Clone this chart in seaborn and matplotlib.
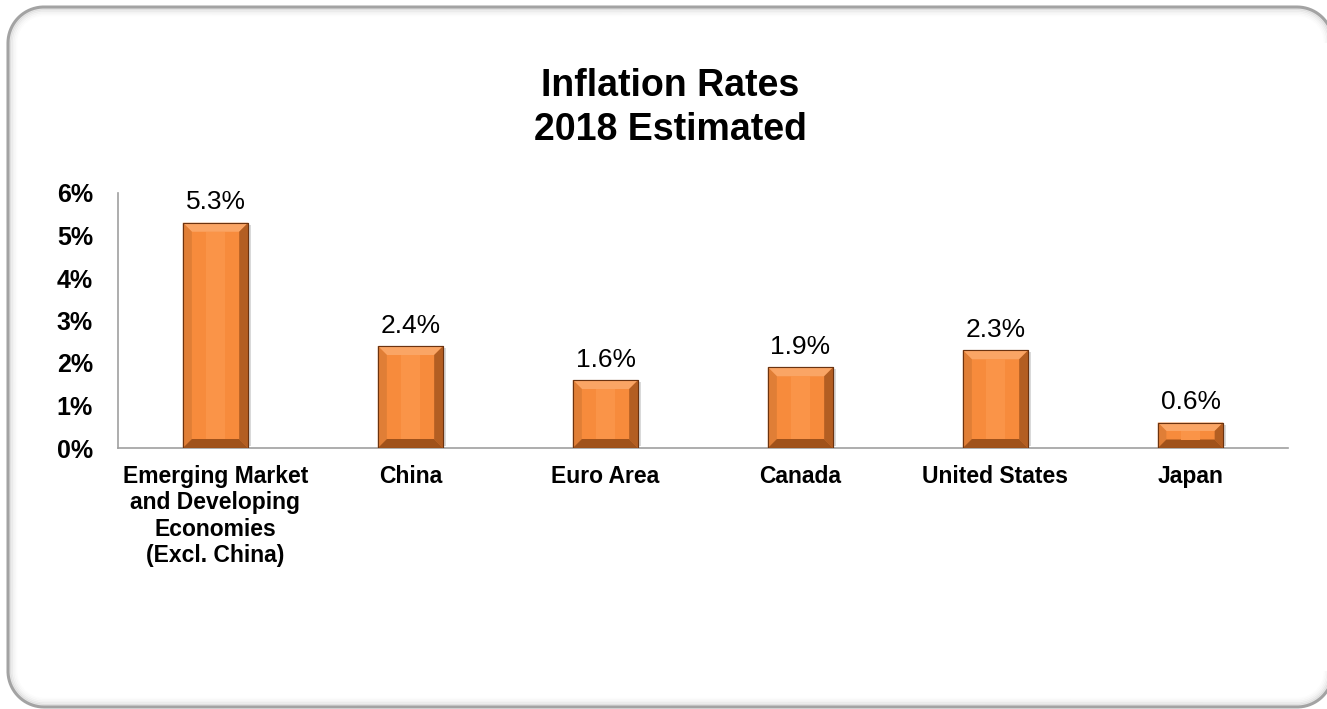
import matplotlib
matplotlib.use("Agg")
import matplotlib.pyplot as plt
import seaborn as sns
import pandas as pd
import numpy as np
from matplotlib.patches import Polygon

categories = ["Emerging Market\nand Developing\nEconomies\n(Excl. China)",
              "China", "Euro Area", "Canada", "United States", "Japan"]
values = [5.3, 2.4, 1.6, 1.9, 2.3, 0.6]
value_labels = ["5.3%", "2.4%", "1.6%", "1.9%", "2.3%", "0.6%"]
ytick_labels = ["0%", "1%", "2%", "3%", "4%", "5%", "6%"]
title_lines = "Inflation Rates\n2018 Estimated"

sns.set_style("white")
plt.rcParams['font.family'] = ['Liberation Sans', 'DejaVu Sans']
plt.rcParams['text.color'] = 'black'
plt.rcParams['xtick.color'] = 'black'
plt.rcParams['ytick.color'] = 'black'

W, H = 1327, 709
fig = plt.figure(figsize=(W / 100, H / 100), dpi=100)

# background axes in pixel units (y downward) for the rounded frame
bg = fig.add_axes([0, 0, 1, 1], zorder=-5)
bg.set_xlim(0, W)
bg.set_ylim(H, 0)
bg.axis("off")


def frame_outline(x0, y0, x1, y1, r, n=40):
    """Open outline (right side omitted) of a rounded rectangle, y downward."""
    segs = []
    for (cx, cy, a0, a1) in [(x1 - r, y0 + r, 0, -np.pi / 2),
                             (x0 + r, y0 + r, -np.pi / 2, -np.pi),
                             (x0 + r, y1 - r, np.pi, np.pi / 2),
                             (x1 - r, y1 - r, np.pi / 2, 0)]:
        t = np.linspace(a0, a1, n)
        segs.append(np.column_stack([cx + r * np.cos(t), cy + r * np.sin(t)]))
    pts = np.vstack(segs)
    return pts[:, 0], pts[:, 1]


fx0, fy0, fx1, fy1, frad = 8, 7, 1333, 707, 36
for i, alpha in enumerate([0.10, 0.07, 0.045, 0.025, 0.012]):
    off = 2.0 + i * 1.6
    xs, ys = frame_outline(fx0 + off, fy0 + off, fx1 - off, fy1 - off, frad - off)
    bg.plot(xs, ys, color="black", alpha=alpha, linewidth=1.4,
            solid_capstyle="butt", clip_on=True)
xs, ys = frame_outline(fx0, fy0, fx1, fy1, frad)
bg.plot(xs, ys, color="#a3a3a3", linewidth=2.2, solid_capstyle="butt", clip_on=True)

ax = fig.add_axes([118 / W, (H - 448) / H, (1288 - 118) / W, (448 - 193) / H])
ax.patch.set_alpha(0)

df = pd.DataFrame({"cat": categories, "val": values})
sns.barplot(data=df, x="cat", y="val", ax=ax, color="#F78B3C", width=0.335,
            saturation=1, edgecolor="#6b3310", linewidth=0.8, zorder=3)

ax.set_ylim(0, 6)
ax.set_xlim(-0.5, len(categories) - 0.5)
ax.set_yticks(range(7))
ax.set_yticklabels(ytick_labels, fontsize=18, fontweight="bold")
ax.set_xticklabels(categories, fontsize=16.5, fontweight="bold", linespacing=1.2)
ax.set_xlabel("")
ax.set_ylabel("")
for s in ["top", "right"]:
    ax.spines[s].set_visible(False)
for s in ["left", "bottom"]:
    ax.spines[s].set_color("#a0a0a0")
    ax.spines[s].set_linewidth(1.2)
ax.tick_params(axis="y", direction="in", length=8, color="#a0a0a0", width=1, pad=18)
ax.tick_params(axis="x", length=0, pad=12)

# bevel decoration derived from bar geometry
inv = ax.transData.inverted()
renderer = fig.canvas.get_renderer()
for patch in list(ax.patches):
    bb = patch.get_window_extent(renderer=renderer)
    x0, y0, x1, y1 = bb.x0, bb.y0, bb.x1, bb.y1
    b = min(9, (y1 - y0) / 3)
    faces = [
        ([(x0, y1), (x1, y1), (x1 - b, y1 - b), (x0 + b, y1 - b)], "#FAA565"),
        ([(x0, y0), (x0, y1), (x0 + b, y1 - b), (x0 + b, y0 + b)], "#E07E36"),
        ([(x1, y0), (x1, y1), (x1 - b, y1 - b), (x1 - b, y0 + b)], "#B35E22"),
        ([(x0, y0), (x1, y0), (x1 - b, y0 + b), (x0 + b, y0 + b)], "#A0521B"),
    ]
    for pts, c in faces:
        ax.add_patch(Polygon(inv.transform(pts), closed=True, facecolor=c,
                             edgecolor="none", zorder=4))
    cx0, cx1 = x0 + b + (x1 - x0 - 2 * b) * 0.3, x0 + b + (x1 - x0 - 2 * b) * 0.7
    ax.add_patch(Polygon(inv.transform([(cx0, y0 + b), (cx1, y0 + b), (cx1, y1 - b), (cx0, y1 - b)]),
                         closed=True, facecolor="#FA9448", edgecolor="none", zorder=4))
    ax.add_patch(Polygon(inv.transform([(x1, y0 + 2), (x1 + 3, y0 + 2), (x1 + 3, y1 - 2), (x1, y1 - 2)]),
                         closed=True, facecolor="#000000", alpha=0.15, edgecolor="none", zorder=2))
    ax.add_patch(Polygon(inv.transform([(x0, y0), (x1, y0), (x1, y1), (x0, y1)]),
                         closed=True, fill=False, edgecolor="#6b3310",
                         linewidth=0.8, zorder=5))

for i, (v, t) in enumerate(zip(values, value_labels)):
    ax.annotate(t, (i, v), xytext=(0, 6), textcoords="offset points",
                ha="center", va="bottom", fontsize=19, color="black")

fig.text(670 / W, 1 - 108 / H, title_lines, ha="center", va="center",
         fontsize=27, fontweight="bold", linespacing=1.25)

fig.savefig("out.png", dpi=100)
